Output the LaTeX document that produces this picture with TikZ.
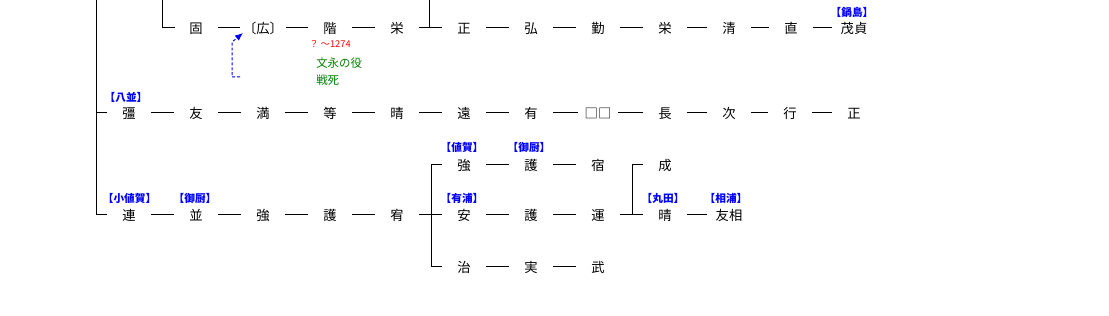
\documentclass[tikz,border=0pt]{standalone}
\usepackage{fontspec}
\newfontfamily\jp{Noto Sans CJK JP}
\usetikzlibrary{arrows.meta}
\definecolor{fgreen}{RGB}{0,128,0}
\begin{document}
\begin{tikzpicture}[x=0.75pt,y=-0.75pt,
  person/.style={font=\jp\fontsize{10}{12}\selectfont, inner xsep=11.5pt, inner ysep=0pt, text height=8.8pt, text depth=1.2pt},
  tight/.style={inner xsep=6pt},
  clan/.style={font=\jp\bfseries\fontsize{8}{9}\selectfont, text=blue, inner sep=0pt},
  link/.style={line width=0.75pt},
  note/.style={font=\jp\fontsize{7}{8}\selectfont, text=red, inner sep=0pt},
  deed/.style={font=\jp\fontsize{8.6}{12.75}\selectfont, text=fgreen, inner sep=0pt, align=left},
  hint/.style={blue, line width=0.75pt, dash pattern=on 2.2pt off 1.5pt, -{Latex[length=6pt,width=5pt]}}]
\useasboundingbox (0,0) rectangle (1109,316);

% ---- row 1
\node[person] (r1a) at (196,28) {固};
\node[person, inner xsep=2pt] (r1b) at (263,28) {〔広〕};
\node[person] (r1c) at (330,28) {階};
\node[person] (r1d) at (397,28) {栄};
\node[person] (r1e) at (464,28) {正};
\node[person] (r1f) at (531,28) {弘};
\node[person] (r1g) at (598,28) {勤};
\node[person] (r1h) at (665,28) {栄};
\node[person] (r1i) at (729,28) {清};
\node[person] (r1j) at (791,28) {直};
\node[person, tight] (r1k) at (854,28) {茂貞};
\node[clan] (l1k) at (852,12) {【鍋島】};
\foreach \a/\b in {r1a/r1b,r1b/r1c,r1c/r1d,r1d/r1e,r1e/r1f,r1f/r1g,r1g/r1h,r1h/r1i,r1i/r1j,r1j/r1k}
  \draw[link] (\a) -- (\b);
\coordinate (k1t) at (162,0);
\coordinate (k1b) at (162,28);
\coordinate (k1e) at (175,28);
\draw[link] (k1t) -- (k1b) -- (k1e);
\coordinate (j1t) at (429,0);
\coordinate (j1b) at (429,28);
\draw[link] (j1t) -- (j1b);

\node[note, anchor=west] (n1) at (309,44) {？ ～1274};
\node[deed, anchor=west] (d1) at (316,71.5) {文永の役\\戦死};
\coordinate (h1) at (240,77);
\coordinate (h2) at (232,77);
\coordinate (h3) at (232,42);
\coordinate (h4) at (243,33);
\draw[hint] (h1) -- (h2) -- (h3) -- (h4);

% ---- spine
\coordinate (sp0) at (96,0);
\coordinate (sp2) at (96,113);
\coordinate (sp2e) at (107,113);
\coordinate (sp4) at (96,215);
\coordinate (sp4e) at (107,215);
\draw[link] (sp0) -- (sp4) -- (sp4e);
\draw[link] (sp2) -- (sp2e);

% ---- row 2
\node[person] (r2a) at (129,113) {彊};
\node[person] (r2b) at (196,113) {友};
\node[person] (r2c) at (263,113) {満};
\node[person] (r2d) at (330,113) {等};
\node[person] (r2e) at (397,113) {晴};
\node[person] (r2f) at (464,113) {遠};
\node[person] (r2g) at (531,113) {有};
\node[person, inner xsep=5pt] (r2h) at (598,113) {□□};
\node[person] (r2i) at (665,113) {長};
\node[person] (r2j) at (729,113) {次};
\node[person] (r2k) at (790,113) {行};
\node[person] (r2l) at (854,113) {正};
\node[clan] (l2a) at (126,97) {【八並】};
\foreach \a/\b in {r2a/r2b,r2b/r2c,r2c/r2d,r2d/r2e,r2e/r2f,r2f/r2g,r2g/r2h,r2h/r2i,r2i/r2j,r2j/r2k,r2k/r2l}
  \draw[link] (\a) -- (\b);

% ---- row 4 main
\node[person] (r4a) at (129,215) {連};
\node[person] (r4b) at (196,215) {並};
\node[person] (r4c) at (263,215) {強};
\node[person] (r4d) at (330,215) {護};
\node[person] (r4e) at (397,215) {宥};
\node[person] (r4f) at (464,215) {安};
\node[person] (r4g) at (531,215) {護};
\node[person] (r4h) at (598,215) {運};
\node[person] (r4i) at (665,215) {晴};
\node[person, tight] (r4j) at (729,215) {友相};
\node[clan] (l4a) at (129.5,198) {【小値賀】};
\node[clan] (l4b) at (195,198) {【御厨】};
\node[clan] (l4f) at (462,198) {【有浦】};
\node[clan] (l4i) at (663,198) {【丸田】};
\node[clan] (l4j) at (726,198) {【相浦】};
\foreach \a/\b in {r4a/r4b,r4b/r4c,r4c/r4d,r4d/r4e,r4e/r4f,r4f/r4g,r4g/r4h,r4h/r4i,r4i/r4j}
  \draw[link] (\a) -- (\b);

% ---- row 3
\node[person] (r3a) at (464,165) {強};
\node[person] (r3b) at (531,165) {護};
\node[person] (r3c) at (598,165) {宿};
\node[person] (r3d) at (665,165) {成};
\node[clan] (l3a) at (462,147) {【値賀】};
\node[clan] (l3b) at (529,147) {【御厨】};
\draw[link] (r3a) -- (r3b);
\draw[link] (r3b) -- (r3c);

% ---- row 5
\node[person] (r5a) at (464,267) {治};
\node[person] (r5b) at (531,267) {実};
\node[person] (r5c) at (598,267) {武};
\draw[link] (r5a) -- (r5b);
\draw[link] (r5b) -- (r5c);

% ---- forks
\coordinate (f1t) at (431,165);
\coordinate (f1te) at (442,165);
\coordinate (f1b) at (431,267);
\coordinate (f1be) at (442,267);
\draw[link] (f1te) -- (f1t) -- (f1b) -- (f1be);
\coordinate (f2t) at (632,165);
\coordinate (f2te) at (643,165);
\coordinate (f2b) at (632,215);
\draw[link] (f2te) -- (f2t) -- (f2b);
\end{tikzpicture}
\end{document}
